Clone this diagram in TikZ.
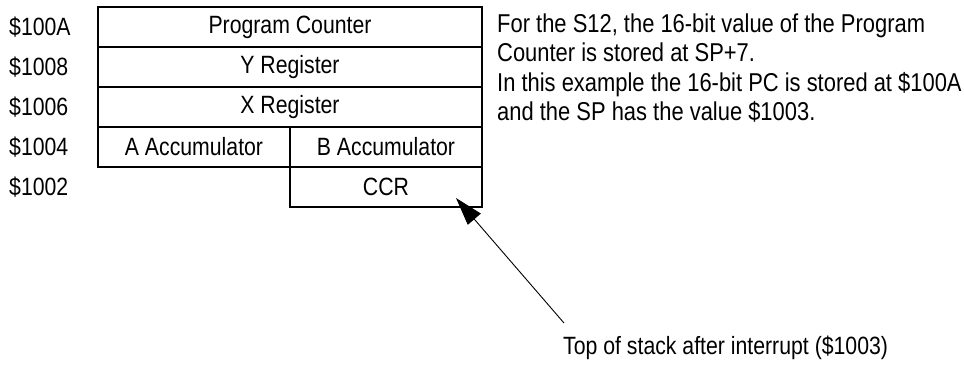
\documentclass[tikz,border=0pt]{standalone}
\usepackage{fontspec}
\setmainfont{Liberation Sans}[FakeStretch=0.85]
\usetikzlibrary{arrows.meta}
\tikzset{
  cell/.style={draw, line width=1.8pt, inner sep=0pt, minimum height=40pt, font=\fontsize{25}{29}\selectfont},
  wide/.style={cell, minimum width=384pt},
  half/.style={cell, minimum width=192pt},
  addr/.style={anchor=west, inner sep=0pt, font=\fontsize{25}{29}\selectfont},
  note/.style={inner sep=0pt, align=left, font=\fontsize{25.8}{29.5}\selectfont},
  pointer/.style={line width=0.9pt, -{Triangle[length=28pt,width=17pt]}}
}
\begin{document}
\begin{tikzpicture}[x=1pt,y=-1pt]
\useasboundingbox (0,0) rectangle (964,369);
\node[wide] (pc) at (290,27) {Program Counter};
\node[wide] (yr) at (290,67) {Y Register};
\node[wide] (xr) at (290,107) {X Register};
\node[half] (aa) at (194,147) {A Accumulator};
\node[half] (ba) at (386,147) {B Accumulator};
\node[half] (ccr) at (386,187) {CCR};
\node[addr] (l1) at (9,27) {\$100A};
\node[addr] (l2) at (9,67) {\$1008};
\node[addr] (l3) at (9,107) {\$1006};
\node[addr] (l4) at (9,147) {\$1004};
\node[addr] (l5) at (9,187) {\$1002};
\node[note, anchor=west] (desc) at (497,68) {For the S12, the 16-bit value of the Program\\Counter is stored at SP+7.\\In this example the 16-bit PC is stored at \$100A\\and the SP has the value \$1003.};
\node[note, anchor=west, font=\fontsize{25}{29}\selectfont] (tos) at (563,348) {Top of stack after interrupt (\$1003)};
\coordinate (tail) at (564,323);
\coordinate (tip) at (456,198);
\draw[pointer] (tail) -- (tip);
\end{tikzpicture}
\end{document}
